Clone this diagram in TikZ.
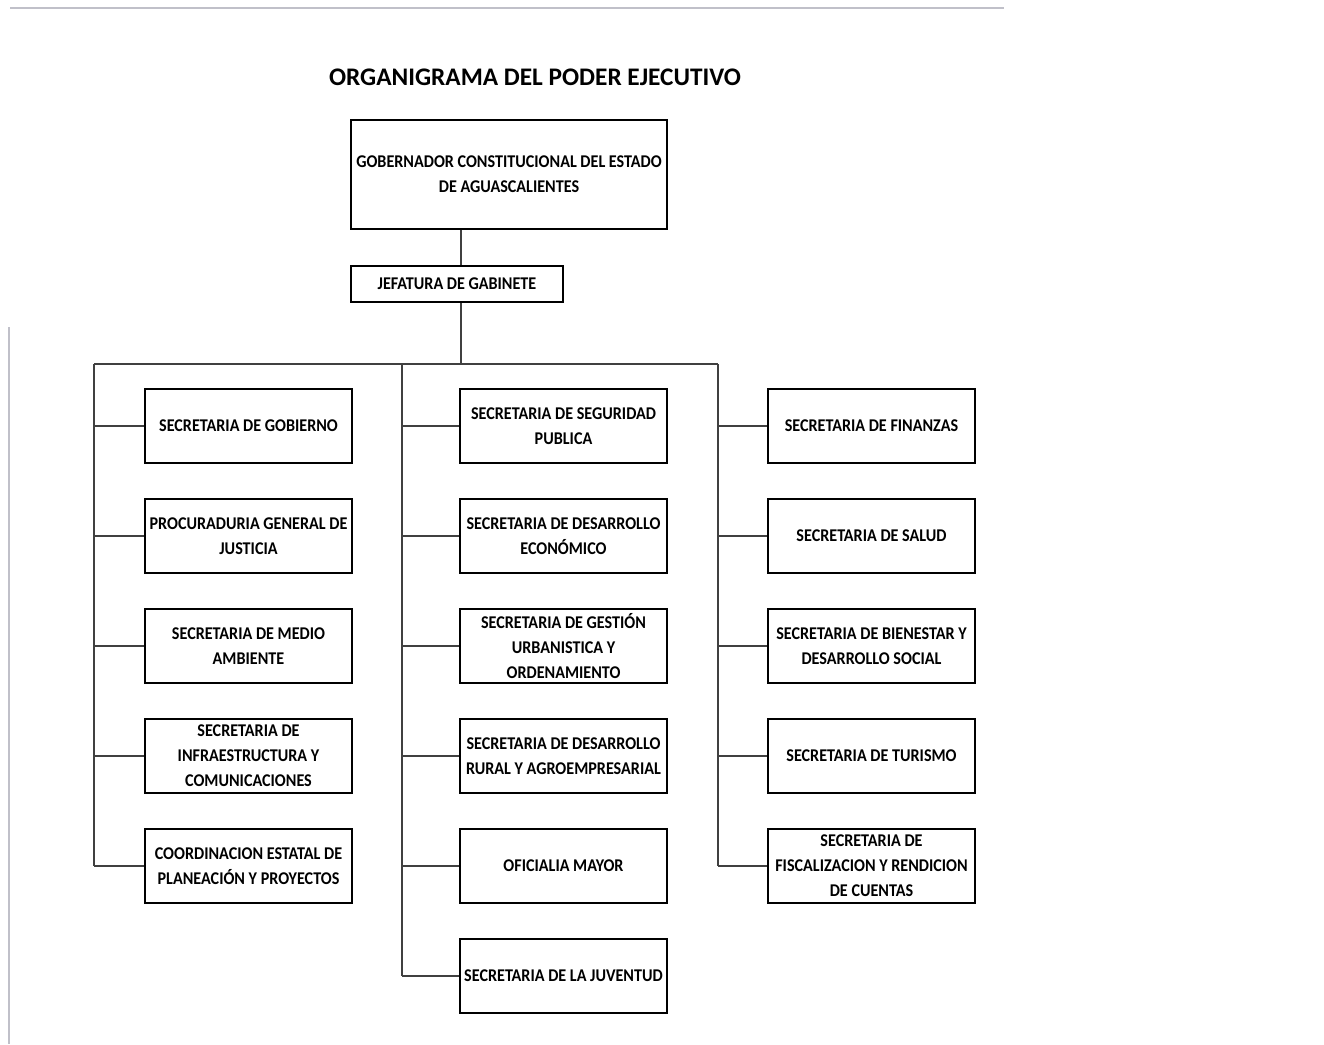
\documentclass[tikz,border=0pt]{standalone}
\usepackage{fontspec}
\setmainfont{Carlito}
\newfontfamily\boxfont{Carlito}[FakeStretch=0.9]
\begin{document}
\begin{tikzpicture}[x=0.02cm,y=-0.02cm]
		\tikzstyle{SEC}=[draw=black,line width=1.1pt,minimum width=4.14cm,minimum height=1.48cm,inner sep=1pt,align=center,font=\boxfont\bfseries\fontsize{10.2}{14.2}\selectfont]
		\tikzstyle{LINK}=[draw=black!75,line width=0.85pt]
		\useasboundingbox (0,0) rectangle (1324,1044);
		% page frame left over from the scan
		\draw[black!20!blue!10!gray!45,line width=1.1pt] (10,8) -- (1004,8);
		\draw[black!20!blue!10!gray!45,line width=1.1pt] (9,327) -- (9,1044);
		\node[font=\bfseries\fontsize{14.4}{16}\selectfont] (title) at (535,77) {ORGANIGRAMA DEL PODER EJECUTIVO};
		\begin{scope}
		\node[SEC,minimum width=6.32cm,minimum height=2.18cm] (gob) at (509,174.5) {GOBERNADOR CONSTITUCIONAL DEL ESTADO\\DE AGUASCALIENTES};
		\node[SEC,minimum width=4.24cm,minimum height=0.72cm] (jef) at (457,284) {JEFATURA DE GABINETE};
		\node[SEC] (l-1) at (248.5,426) {SECRETARIA DE GOBIERNO};
		\node[SEC] (l-2) at (248.5,536) {PROCURADURIA GENERAL DE\\JUSTICIA};
		\node[SEC] (l-3) at (248.5,646) {SECRETARIA DE MEDIO\\AMBIENTE};
		\node[SEC] (l-4) at (248.5,756) {SECRETARIA DE\\INFRAESTRUCTURA Y\\COMUNICACIONES};
		\node[SEC] (l-5) at (248.5,866) {COORDINACION ESTATAL DE\\PLANEACIÓN Y PROYECTOS};
		\node[SEC] (m-1) at (563.5,426) {SECRETARIA DE SEGURIDAD\\PUBLICA};
		\node[SEC] (m-2) at (563.5,536) {SECRETARIA DE DESARROLLO\\ECONÓMICO};
		\node[SEC] (m-3) at (563.5,646) {SECRETARIA DE GESTIÓN\\URBANISTICA Y\\ORDENAMIENTO};
		\node[SEC] (m-4) at (563.5,756) {SECRETARIA DE DESARROLLO\\RURAL Y AGROEMPRESARIAL};
		\node[SEC] (m-5) at (563.5,866) {OFICIALIA MAYOR};
		\node[SEC] (m-6) at (563.5,976) {SECRETARIA DE LA JUVENTUD};
		\node[SEC] (r-1) at (871.5,426) {SECRETARIA DE FINANZAS};
		\node[SEC] (r-2) at (871.5,536) {SECRETARIA DE SALUD};
		\node[SEC] (r-3) at (871.5,646) {SECRETARIA DE BIENESTAR Y\\DESARROLLO SOCIAL};
		\node[SEC] (r-4) at (871.5,756) {SECRETARIA DE TURISMO};
		\node[SEC] (r-5) at (871.5,866) {SECRETARIA DE\\FISCALIZACION Y RENDICION\\DE CUENTAS};
		\end{scope}
		
		\coordinate (top) at (461,364);
		\coordinate (bus-l) at (94,364);
		\coordinate (bus-m) at (402,364);
		\coordinate (bus-r) at (718,364);
		
		\path[LINK]
		(gob.south -| top) edge (jef.north -| top)
		(jef.south -| top) edge (top)
		(bus-l) edge (bus-r)
		(bus-l) edge (l-5.west -| bus-l)
		(bus-m) edge (m-6.west -| bus-m)
		(bus-r) edge (r-5.west -| bus-r)
		;
		\foreach \b in {l-1,l-2,l-3,l-4,l-5} \draw[LINK] (\b.west -| bus-l) -- (\b.west);
		\foreach \b in {m-1,m-2,m-3,m-4,m-5,m-6} \draw[LINK] (\b.west -| bus-m) -- (\b.west);
		\foreach \b in {r-1,r-2,r-3,r-4,r-5} \draw[LINK] (\b.west -| bus-r) -- (\b.west);
		\end{tikzpicture}
\end{document}
